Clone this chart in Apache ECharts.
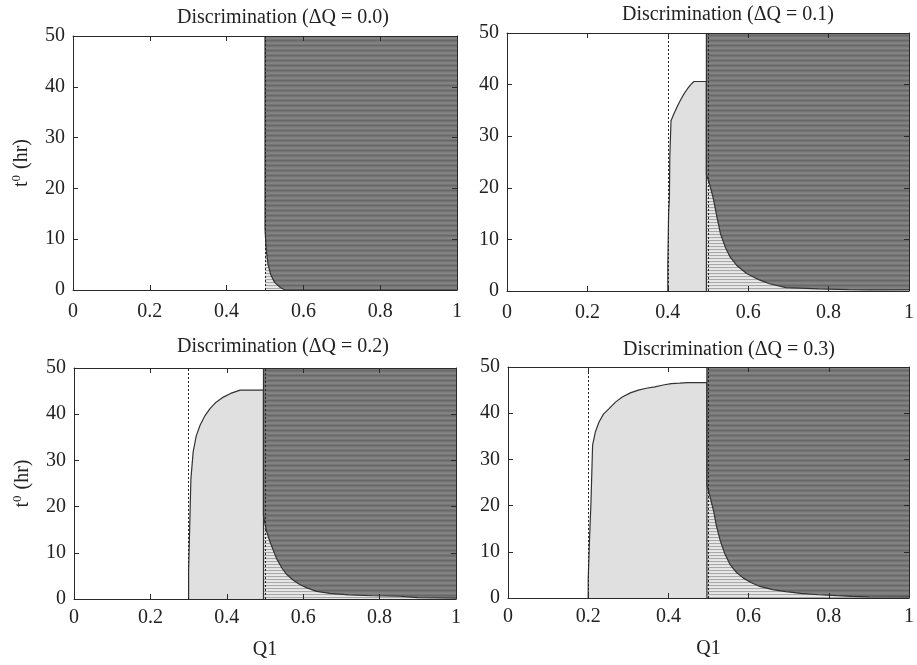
<!DOCTYPE html>
<html>
<head>
<meta charset="utf-8">
<script src="https://cdn.jsdelivr.net/npm/echarts@6/dist/echarts.min.js"></script>
<style>
  html, body { margin: 0; padding: 0; background: #fff; }
  #chart { width: 917px; height: 665px; }
</style>
</head>
<body>
<div id="chart"></div>
<script>
// Panel titles, one per discrimination level
const panelTitles = [
  'Discrimination (ΔQ = 0.0)',
  'Discrimination (ΔQ = 0.1)',
  'Discrimination (ΔQ = 0.2)',
  'Discrimination (ΔQ = 0.3)'
];

// Lower bound of the discrimination band (dotted line); upper bound is 0.5
const bandLow = [0.5, 0.4, 0.3, 0.2];
const bandHigh = 0.5;

// Axis ranges and tick steps
const q1Range = [0, 1];
const q1Step = 0.2;
const tRange = [0, 50];
const tStep = 10;

// Upper boundary of the light region (Q1, t0) for each panel
const light00 = [];
const light01 = [
  [0.4, 0], [0.4, 5], [0.402, 5], [0.402, 15], [0.404, 18], [0.405, 26],
  [0.408, 33], [0.416, 34.5], [0.425, 36], [0.433, 37.2], [0.441, 38.3],
  [0.449, 39.2], [0.457, 40], [0.465, 40.6], [0.496, 40.6], [0.496, 0]
];
const light02 = [
  [0.3, 0], [0.3, 6], [0.303, 6], [0.303, 16], [0.306, 16], [0.306, 26],
  [0.312, 31.9], [0.32, 35.3], [0.33, 37.6], [0.343, 39.7], [0.356, 41.2],
  [0.372, 42.6], [0.391, 43.7], [0.41, 44.5], [0.435, 45.2], [0.496, 45.2], [0.496, 0]
];
const light03 = [
  [0.2, 0], [0.2, 4], [0.203, 4], [0.203, 12], [0.207, 12], [0.207, 21],
  [0.211, 33.1], [0.218, 36], [0.227, 38.1], [0.238, 39.8], [0.252, 41],
  [0.268, 42.4], [0.285, 43.5], [0.305, 44.4], [0.325, 45], [0.345, 45.4],
  [0.366, 45.7], [0.387, 46.1], [0.407, 46.4], [0.428, 46.5], [0.448, 46.6],
  [0.496, 46.6], [0.496, 0]
];

// Lower boundary of the dark region (Q1, t0) for each panel
const dark00 = [
  [0.5, 50], [0.5, 12], [0.503, 8], [0.508, 5], [0.515, 3], [0.525, 1.5],
  [0.54, 0.5], [0.552, 0], [1, 0]
];
const dark01 = [
  [0.496, 50], [0.496, 22.5], [0.503, 21], [0.51, 18.9], [0.514, 17.6],
  [0.522, 14.4], [0.531, 11.1], [0.543, 8.5], [0.555, 6.6], [0.571, 5],
  [0.596, 3.4], [0.629, 2.1], [0.653, 1.4], [0.694, 0.65], [0.776, 0.4],
  [0.85, 0.25], [0.9, 0.2], [1, 0.2]
];
const dark02 = [
  [0.496, 50], [0.496, 18], [0.503, 15], [0.513, 12.4], [0.53, 8.8],
  [0.545, 6.6], [0.557, 5.3], [0.575, 4], [0.592, 3.1], [0.61, 2.4],
  [0.635, 1.65], [0.67, 1.2], [0.72, 0.9], [0.78, 0.7], [0.853, 0.6],
  [0.9, 0.3], [1, 0.2]
];
const dark03 = [
  [0.496, 50], [0.496, 24.5], [0.505, 21.5], [0.513, 18.7], [0.52, 15.5],
  [0.53, 12.2], [0.541, 9.5], [0.554, 7.2], [0.57, 5.5], [0.587, 4.3],
  [0.607, 3.3], [0.628, 2.5], [0.66, 1.8], [0.693, 1.4], [0.73, 1.0],
  [0.775, 0.7], [0.82, 0.5], [0.857, 0.36], [0.9, 0.25], [1, 0.2]
];

const lightRegions = [light00, light01, light02, light03];
const darkRegions = [dark00, dark01, dark02, dark03];

// Plot boxes in pixels
const boxes = [
  { left: 73, top: 36, width: 384, height: 254 },
  { left: 507, top: 33, width: 408, height: 258 },
  { left: 74, top: 368, width: 382, height: 231 },
  { left: 508, top: 367, width: 407, height: 231 }
];
const titlePos = [[278, 3], [723, 0], [278, 332], [724, 335]];

const FONT = '"Liberation Serif", "Times New Roman", serif';
const INK = '#2a2a2a';

// Horizontal line fills
function stripes(colors) {
  const c = document.createElement('canvas');
  c.width = 8;
  c.height = colors.length;
  const g = c.getContext('2d');
  colors.forEach((col, i) => { g.fillStyle = col; g.fillRect(0, i, 8, 1); });
  return c;
}
const darkFill = { image: stripes(['#686868', '#747474', '#808080', '#848484', '#767676']), repeat: 'repeat' };
const hatchFill = { image: stripes(['#a8a8a8', '#e3e3e3', '#e8e8e8']), repeat: 'repeat' };
const lightFill = '#e0e0e0';

const grids = [], xAxes = [], yAxes = [], series = [], titles = [];

boxes.forEach((b, i) => {
  grids.push(Object.assign({ containLabel: false }, b));
  const bottomRow = i >= 2;
  const leftCol = i % 2 === 0;
  const axisLine = () => ({ show: true, onZero: false, lineStyle: { color: INK, width: 1 } });
  const tick = () => ({ show: true, inside: true, length: 5, lineStyle: { color: INK, width: 1 } });

  xAxes.push({
    type: 'value', gridIndex: i, min: q1Range[0], max: q1Range[1], interval: q1Step,
    position: 'bottom', z: 10,
    axisLine: axisLine(), axisTick: tick(), splitLine: { show: false },
    axisLabel: { color: '#222', fontFamily: FONT, fontSize: 20, margin: bottomRow ? 9 : 12 },
    name: bottomRow ? 'Q1' : '', nameLocation: 'middle', nameGap: 41,
    nameTextStyle: { color: '#222', fontFamily: FONT, fontSize: 20 }
  });
  xAxes.push({
    type: 'value', gridIndex: i, min: q1Range[0], max: q1Range[1], interval: q1Step,
    position: 'top', z: 10,
    axisLine: axisLine(), axisTick: tick(), splitLine: { show: false }, axisLabel: { show: false }
  });
  yAxes.push({
    type: 'value', gridIndex: i, min: tRange[0], max: tRange[1], interval: tStep,
    position: 'left', z: 10,
    axisLine: axisLine(), axisTick: tick(), splitLine: { show: false },
    axisLabel: { color: '#222', fontFamily: FONT, fontSize: 20, margin: 8 },
    name: leftCol ? '{t|t}{s|0}{t| (hr)}' : '', nameLocation: 'middle', nameGap: 41, nameRotate: 90,
    nameTextStyle: {
      color: '#222', fontFamily: FONT, fontSize: 20,
      rich: {
        t: { fontFamily: FONT, fontSize: 20, color: '#222', verticalAlign: 'bottom' },
        s: { fontFamily: FONT, fontSize: 13, color: '#222', verticalAlign: 'bottom', padding: [0, 1, 9, 0] }
      }
    }
  });
  yAxes.push({
    type: 'value', gridIndex: i, min: tRange[0], max: tRange[1], interval: tStep,
    position: 'right', z: 10,
    axisLine: axisLine(), axisTick: tick(), splitLine: { show: false }, axisLabel: { show: false }
  });

  const xi = i * 2, yi = i * 2;

  if (lightRegions[i].length) {
    series.push({
      type: 'line', xAxisIndex: xi, yAxisIndex: yi, data: lightRegions[i],
      showSymbol: false, silent: true, z: 2,
      lineStyle: { color: '#333', width: 1.2 },
      areaStyle: { color: lightFill, opacity: 1, origin: 'start' }
    });
  }
  // hatched band beneath the dark boundary
  series.push({
    type: 'line', xAxisIndex: xi, yAxisIndex: yi, data: darkRegions[i],
    showSymbol: false, silent: true, z: 2,
    lineStyle: { width: 0, opacity: 0 },
    areaStyle: { color: hatchFill, opacity: 1, origin: 'start' }
  });
  // dark region above the boundary
  series.push({
    type: 'line', xAxisIndex: xi, yAxisIndex: yi, data: darkRegions[i],
    showSymbol: false, silent: true, z: 3,
    lineStyle: { color: '#333', width: 1.2 },
    areaStyle: { color: darkFill, opacity: 1, origin: 'end' },
    markLine: {
      silent: true, symbol: 'none', animation: false, z: 4,
      label: { show: false },
      lineStyle: { color: '#222', type: [2, 2], width: 1 },
      data: (bandLow[i] === bandHigh ? [bandHigh] : [bandLow[i], bandHigh]).map(v => ({ xAxis: v }))
    }
  });

  titles.push({
    text: panelTitles[i], left: titlePos[i][0], top: titlePos[i][1], textAlign: 'center',
    textStyle: { fontFamily: FONT, fontSize: 20, fontWeight: 'normal', color: '#222' }
  });
});

const chart = echarts.init(document.getElementById('chart'), null, { renderer: 'canvas' });
chart.setOption({
  animation: false,
  backgroundColor: '#ffffff',
  title: titles,
  grid: grids,
  xAxis: xAxes,
  yAxis: yAxes,
  series
});
</script>
</body>
</html>
